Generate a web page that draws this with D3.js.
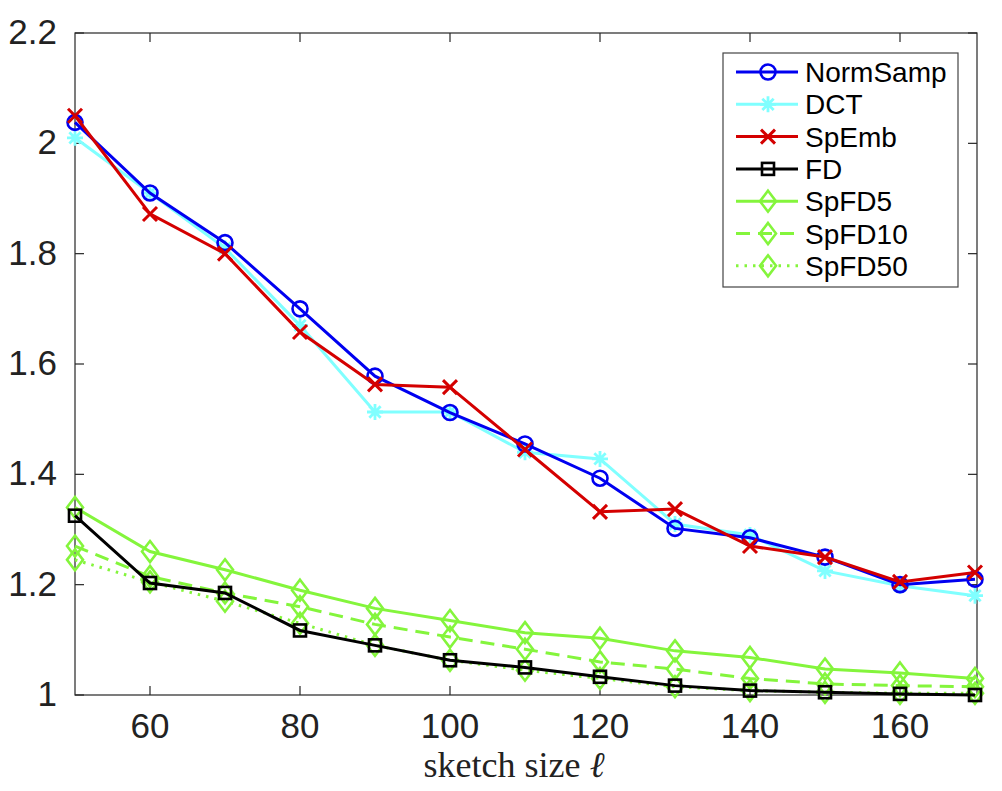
<!DOCTYPE html>
<html>
<head>
<meta charset="utf-8">
<script src="https://cdn.jsdelivr.net/npm/d3@7"></script>
<style>
  body { margin: 0; background: #fff; }
  svg { display: block; }
</style>
</head>
<body>
<div id="chart"></div>
<script>
// sketch sizes (x values)
var sizes = [50, 60, 70, 80, 90, 100, 110, 120, 130, 140, 150, 160, 170];

var normSamp = [2.038, 1.910, 1.820, 1.700, 1.578, 1.512, 1.455, 1.393, 1.302, 1.285, 1.250, 1.200, 1.210];
var dct      = [2.010, 1.910, 1.810, 1.670, 1.513, 1.513, 1.440, 1.428, 1.310, 1.290, 1.225, 1.198, 1.180];
var spEmb    = [2.050, 1.872, 1.800, 1.658, 1.563, 1.558, 1.445, 1.332, 1.337, 1.270, 1.250, 1.205, 1.222];
var fd       = [1.325, 1.203, 1.185, 1.117, 1.090, 1.063, 1.050, 1.033, 1.017, 1.008, 1.005, 1.002, 1.000];
var spFD5    = [1.340, 1.260, 1.227, 1.190, 1.157, 1.135, 1.113, 1.103, 1.080, 1.068, 1.047, 1.040, 1.030];
var spFD10   = [1.270, 1.215, 1.185, 1.160, 1.128, 1.105, 1.083, 1.060, 1.047, 1.030, 1.020, 1.017, 1.015];
var spFD50   = [1.245, 1.205, 1.170, 1.130, 1.090, 1.063, 1.045, 1.030, 1.015, 1.008, 1.005, 1.003, 1.003];

var xTicks = [60, 80, 100, 120, 140, 160];
var yTicks = [1, 1.2, 1.4, 1.6, 1.8, 2, 2.2];

var green = "#84f53c";
var series = [
  {name: "NormSamp", values: normSamp, color: "#0000f0", marker: "circle", dash: null},
  {name: "DCT",      values: dct,      color: "#80ffff", marker: "star",   dash: null},
  {name: "SpEmb",    values: spEmb,    color: "#d40000", marker: "cross",  dash: null},
  {name: "FD",       values: fd,       color: "#000000", marker: "square", dash: null},
  {name: "SpFD5",    values: spFD5,    color: green,     marker: "diamond", dash: null},
  {name: "SpFD10",   values: spFD10,   color: green,     marker: "diamond", dash: "14,8"},
  {name: "SpFD50",   values: spFD50,   color: green,     marker: "diamond", dash: "2.5,6"}
];
// draw order: greens and FD below, then upper group
var drawOrder = [6, 5, 4, 3, 1, 0, 2];

var W = 1002, H = 791;
var margin = {top: 33, right: 25, bottom: 96, left: 75},
    width = W - margin.left - margin.right,
    height = H - margin.top - margin.bottom;

var svg = d3.select("#chart")
  .append("svg")
    .attr("width", W)
    .attr("height", H)
  .append("g")
    .attr("transform", "translate(" + margin.left + "," + margin.top + ")");

var x = d3.scaleLinear().domain([50, 170]).range([0, 900]);
var y = d3.scaleLinear().domain([1, 2.2]).range([height, 0]);

var axisColor = "#262626";
var tickLen = 9;

// box
svg.append("rect")
  .attr("x", 0).attr("y", 0)
  .attr("width", width).attr("height", height)
  .attr("fill", "none")
  .attr("stroke", axisColor)
  .attr("stroke-width", 1.2);

// x ticks (bottom and top, inward)
xTicks.forEach(function (t) {
  svg.append("line").attr("x1", x(t)).attr("x2", x(t))
    .attr("y1", height).attr("y2", height - tickLen)
    .attr("stroke", axisColor).attr("stroke-width", 1.2);
  svg.append("line").attr("x1", x(t)).attr("x2", x(t))
    .attr("y1", 0).attr("y2", tickLen)
    .attr("stroke", axisColor).attr("stroke-width", 1.2);
  svg.append("text")
    .attr("x", x(t)).attr("y", height + 43)
    .attr("text-anchor", "middle")
    .attr("font-family", "Liberation Sans, Arial, sans-serif")
    .attr("font-size", 35)
    .attr("fill", "#222")
    .text(t);
});

// y ticks (left and right, inward)
yTicks.forEach(function (t) {
  svg.append("line").attr("x1", 0).attr("x2", tickLen)
    .attr("y1", y(t)).attr("y2", y(t))
    .attr("stroke", axisColor).attr("stroke-width", 1.2);
  svg.append("line").attr("x1", width).attr("x2", width - tickLen)
    .attr("y1", y(t)).attr("y2", y(t))
    .attr("stroke", axisColor).attr("stroke-width", 1.2);
  svg.append("text")
    .attr("x", -18).attr("y", y(t) + 11)
    .attr("text-anchor", "end")
    .attr("font-family", "Liberation Sans, Arial, sans-serif")
    .attr("font-size", 35)
    .attr("fill", "#222")
    .text(d3.format("")(t));
});

// x axis title
svg.append("text")
  .attr("x", width / 2 - 12).attr("y", height + 82)
  .attr("text-anchor", "middle")
  .attr("font-family", "Liberation Serif, Times New Roman, serif")
  .attr("font-size", 36)
  .attr("fill", "#222")
  .html("sketch size <tspan font-style='italic'>ℓ</tspan>");

function drawMarker(g, type, cx, cy, color) {
  if (type === "circle") {
    g.append("circle").attr("cx", cx).attr("cy", cy).attr("r", 7.5)
      .attr("fill", "none").attr("stroke", color).attr("stroke-width", 2.6);
  } else if (type === "square") {
    g.append("rect").attr("x", cx - 6).attr("y", cy - 6).attr("width", 12).attr("height", 12)
      .attr("fill", "none").attr("stroke", color).attr("stroke-width", 2.6);
  } else if (type === "diamond") {
    g.append("path")
      .attr("d", "M" + cx + "," + (cy - 10.5) + "L" + (cx + 8) + "," + cy + "L" + cx + "," + (cy + 10.5) + "L" + (cx - 8) + "," + cy + "Z")
      .attr("fill", "none").attr("stroke", color).attr("stroke-width", 2.6);
  } else if (type === "cross") {
    g.append("path")
      .attr("d", "M" + (cx - 7) + "," + (cy - 7) + "L" + (cx + 7) + "," + (cy + 7) + "M" + (cx - 7) + "," + (cy + 7) + "L" + (cx + 7) + "," + (cy - 7))
      .attr("fill", "none").attr("stroke", color).attr("stroke-width", 3);
  } else if (type === "star") {
    var d = "";
    for (var k = 0; k < 4; k++) {
      var a = k * Math.PI / 4;
      d += "M" + (cx - 8 * Math.cos(a)) + "," + (cy - 8 * Math.sin(a)) + "L" + (cx + 8 * Math.cos(a)) + "," + (cy + 8 * Math.sin(a));
    }
    g.append("path").attr("d", d)
      .attr("fill", "none").attr("stroke", color).attr("stroke-width", 2.8);
  }
}

var line = d3.line()
  .x(function (d, i) { return x(sizes[i]); })
  .y(function (d) { return y(d); });

drawOrder.forEach(function (idx) {
  var s = series[idx];
  var g = svg.append("g");
  g.append("path")
    .attr("d", line(s.values))
    .attr("fill", "none")
    .attr("stroke", s.color)
    .attr("stroke-width", 3)
    .attr("stroke-dasharray", s.dash);
  s.values.forEach(function (v, i) {
    drawMarker(g, s.marker, x(sizes[i]), y(v), s.color);
  });
});

// legend
var lg = svg.append("g").attr("transform", "translate(" + (723 - margin.left) + "," + (53 - margin.top) + ")");
lg.append("rect")
  .attr("width", 235).attr("height", 234)
  .attr("fill", "#fff")
  .attr("stroke", "#444")
  .attr("stroke-width", 1.2);

series.forEach(function (s, i) {
  var ly = 19 + i * 32.3;
  lg.append("line")
    .attr("x1", 13).attr("x2", 75)
    .attr("y1", ly).attr("y2", ly)
    .attr("stroke", s.color)
    .attr("stroke-width", 3)
    .attr("stroke-dasharray", s.dash);
  drawMarker(lg, s.marker, 45, ly, s.color);
  lg.append("text")
    .attr("x", 82).attr("y", ly + 10)
    .attr("font-family", "Liberation Sans, Arial, sans-serif")
    .attr("font-size", 28)
    .attr("fill", "#000")
    .text(s.name);
});
</script>
</body>
</html>
